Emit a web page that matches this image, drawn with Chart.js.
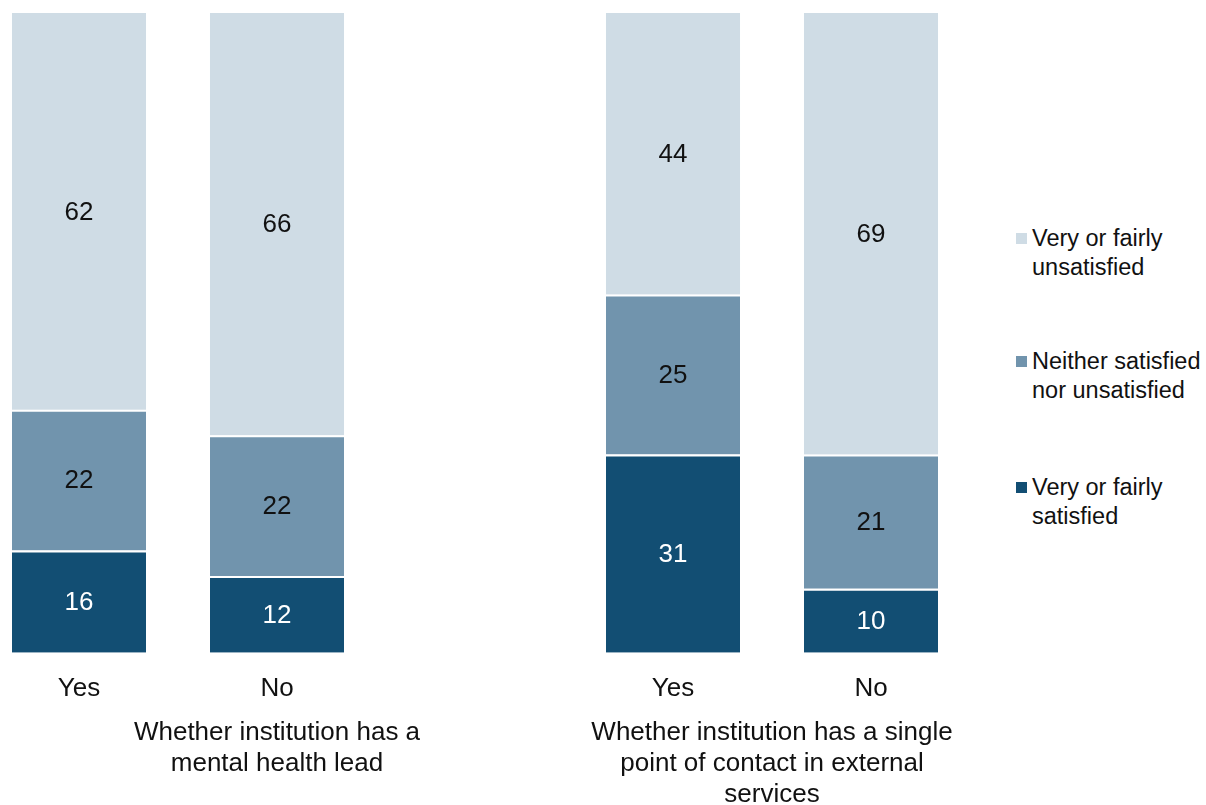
<!DOCTYPE html>
<html>
<head>
<meta charset="utf-8">
<script src="https://cdn.jsdelivr.net/npm/chart.js@4"></script>
<style>
  html, body { margin: 0; padding: 0; background: #fff; overflow: hidden; }
  body { width: 1206px; height: 805px; position: relative; font-family: "Liberation Sans", Arial, sans-serif; }
  #wrap { position: absolute; left: -20px; top: 0; width: 990px; height: 805px; }
  #legend { position: absolute; left: 1016px; top: 0; font-size: 23.5px; color: #111; line-height: 29px; }
  .item { position: absolute; left: 0; width: 190px; padding-left: 16px; white-space: nowrap; }
  .sw { position: absolute; left: 0; top: 9px; width: 11px; height: 11px; }
</style>
</head>
<body>
<div id="wrap"><canvas id="chart"></canvas></div>
<div id="legend"></div>
<script>
// categories along the axis; the blank one is the gap between the two groups
const categories = ["Yes", "No", "", "Yes", "No"];
const groupTitles = [
  ["Whether institution has a", "mental health lead"],
  ["Whether institution has a single", "point of contact in external", "services"]
];
const seriesNames = ["Very or fairly satisfied", "Neither satisfied nor unsatisfied", "Very or fairly unsatisfied"];
const legendLines = [["Very or fairly", "satisfied"], ["Neither satisfied", "nor unsatisfied"], ["Very or fairly", "unsatisfied"]];
const satisfied = [16, 12, null, 31, 10];
const neither = [22, 22, null, 25, 21];
const unsatisfied = [62, 66, null, 44, 69];
const colors = ["#124e73", "#7194ad", "#cfdce5"];
const labelColors = ["#ffffff", "#111111", "#111111"];

const FONT = "'Liberation Sans', Arial, sans-serif";

const valueLabels = {
  id: "valueLabels",
  afterDatasetsDraw(chart) {
    const ctx = chart.ctx;
    ctx.save();
    ctx.font = "26px " + FONT;
    ctx.textAlign = "center";
    ctx.textBaseline = "middle";
    chart.data.datasets.forEach((ds, i) => {
      chart.getDatasetMeta(i).data.forEach((bar, j) => {
        if (ds.data[j] == null) return;
        ctx.fillStyle = labelColors[i];
        ctx.fillText(ds.data[j], bar.x, (bar.y + bar.base) / 2 + 1);
      });
    });
    ctx.restore();
  }
};

// group titles under the category labels
const groupLabels = {
  id: "groupLabels",
  afterDraw(chart) {
    const ctx = chart.ctx;
    const x = chart.scales.x;
    const centers = [x.getPixelForTick(1), (x.getPixelForTick(3) + x.getPixelForTick(4)) / 2];
    ctx.save();
    ctx.font = "26px " + FONT;
    ctx.fillStyle = "#111";
    ctx.textAlign = "center";
    ctx.textBaseline = "middle";
    groupTitles.forEach((lines, g) => {
      lines.forEach((t, k) => ctx.fillText(t, centers[g], 733 + k * 31));
    });
    ctx.restore();
  }
};

new Chart(document.getElementById("chart"), {
  type: "bar",
  data: {
    labels: categories,
    datasets: [
      { label: seriesNames[0], data: satisfied, backgroundColor: colors[0], borderColor: "#fff", borderWidth: { top: 2, left: 0, right: 0, bottom: 0 }, borderSkipped: false },
      { label: seriesNames[1], data: neither, backgroundColor: colors[1], borderColor: "#fff", borderWidth: { top: 2, left: 0, right: 0, bottom: 0 }, borderSkipped: false },
      { label: seriesNames[2], data: unsatisfied, backgroundColor: colors[2], borderWidth: 0 }
    ]
  },
  options: {
    responsive: true,
    maintainAspectRatio: false,
    animation: false,
    layout: { padding: { top: 13, bottom: 81, left: 0, right: 0 } },
    datasets: { bar: { barPercentage: 0.677, categoryPercentage: 1 } },
    plugins: { legend: { display: false }, tooltip: { enabled: false } },
    scales: {
      x: {
        stacked: true,
        grid: { display: false, drawTicks: false },
        border: { display: false },
        ticks: { color: "#111", font: { size: 26, family: FONT }, padding: 20, maxRotation: 0, autoSkip: false }
      },
      y: { stacked: true, display: false, min: 0, max: 100 }
    }
  },
  plugins: [valueLabels, groupLabels]
});

// legend, top to bottom: unsatisfied, neither, satisfied
const legendTops = [224, 347, 473];
const legendEl = document.getElementById("legend");
[2, 1, 0].forEach((s, k) => {
  const item = document.createElement("div");
  item.className = "item";
  item.style.top = legendTops[k] + "px";
  item.innerHTML = '<span class="sw" style="background:' + colors[s] + '"></span>' + legendLines[s].join("<br>");
  legendEl.appendChild(item);
});
</script>
</body>
</html>
